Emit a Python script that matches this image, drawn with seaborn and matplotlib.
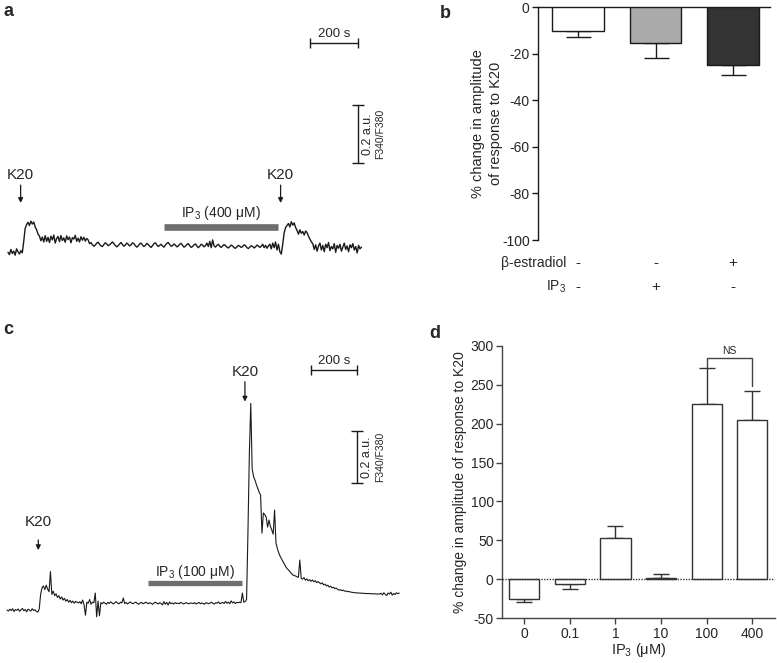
import numpy as np
import pandas as pd
import seaborn as sns
import matplotlib
matplotlib.use('Agg')
import matplotlib.pyplot as plt

# ---- data ----
# traces: F340/F380 ratio in milli a.u. (relative to start baseline), one sample every 6 s
sample_step_a = 6
trace_a = [-8, -16, 2, -12, -4, -18, 4, -6, -14, -2, -10,
           30, 75, 88, 96, 85, 100, 90, 97, 80, 70, 55, 48, 32,
           45, 28, 50, 30, 44, 26, 48, 35, 52, 24, 40, 47, 29, 50, 33, 42, 27, 49, 36, 45, 25, 43, 38, 51,
           30, 41, 28, 46, 34, 44, 31, 40, 35,
           22, 26, 18, 13, 17, 24, 27, 20, 14, 12, 19, 25, 21, 15, 18, 23, 28, 22, 16, 11, 15, 21, 26, 19,
           13, 17, 24, 20, 14, 18, 25, 22,
           15, 10, 14, 21, 24, 17, 12, 16, 23, 19, 13, 9, 15, 22, 25, 18, 12, 16, 20, 14, 10, 17, 23, 26,
           19, 13, 15, 21, 17, 11, 14, 20,
           23, 16, 10, 13, 19, 22, 15, 9, 12, 18, 21, 14, 8, 13, 20, 17, 11, 15, 24, 12, 30, 8, 35, 14,
           10, 16, 20, 13, 9, 14, 19, 15,
           10, 7, 12, 17, 14, 8, 6, 11, 16, 13, 9, 12, 18, 15, 8, 5, 10, 15, 12, 7, 11, 17, 14, 9, 13, 20,
           8, 16, 6, 14,
           20, 4, 24, 8, 28, 0, 20, -6, -14,
           20, 60, 78,
           85, 92, 80, 98, 86, 94, 78,
           68, 55, 70, 58, 64, 52, 66, 60, 48,
           38, 28,
           22, 2, 18, -4, 14, 24, 0, 16, -6, 20, 8, 26, -2, 12, 4, 22, -8, 16, 6, 20, -4, 10, 24, 2, 14,
           -6, 18, 8, 22, 0, 12, -10, 16, 4, 10]

sample_step_c = 6
trace_c = [0, -4, 3, -2, 5, -6, 2, -1, 4, -5, 1, 6, -3, 2, -7, 3, 0, -4, 5, -2, 1, -6, -8, 4,
           60, 85, 92, 78, 95, 80, 70, 147, 60, 72, 55, 62, 48, 55, 42, 50, 38, 45, 34, 40, 30, 37,
           28, 34, 26, 33, 30, 27,
           32, 24, 38, 20, -20, 30, 26, 40, 22, 30, 28, 65, -26, 34, -22,
           28, 24, 30, 26, 22, 29, 25, 31, 27, 23, 28, 32, 26, 24, 30, 27, 46, 25, 29, 23, 27, 31, 26,
           24, 28, 30, 25, 22, 27, 29, 24, 26, 30,
           27, 24, 28, 25, 22, 27, 30, 26, 23, 28, 25, 20, 32, 22, 29, 19, 31, 24, 27, 23, 28, 25, 26,
           24, 29, 27, 23, 26, 28, 25, 24, 27, 26,
           25, 28, 23, 26, 29, 24, 27, 25, 22, 28, 26, 24, 27, 30, 25, 23, 28, 26, 31, 24, 27, 29, 25,
           33, 26, 30, 24, 35, 27, 31, 25, 29, 28,
           30, 28, 65, 30, 32,
           40, 300, 600, 790, 540, 510, 497, 480, 465, 450, 440, 294, 371, 365, 355, 317, 344, 320, 306,
           290, 382, 256, 235, 218, 205, 195, 185, 176, 165, 158, 153, 146, 140, 134, 132, 130, 127,
           125, 191, 122,
           118, 124, 114, 119, 112, 116, 110, 115, 108, 112, 105, 109, 104,
           100, 104, 96, 99, 92, 95, 88, 91, 85, 87, 82, 84, 79, 76,
           78, 74, 76, 72, 73, 70, 71, 69, 68, 67,
           66, 66, 65, 65, 65, 64, 64, 64, 63, 63, 63, 63, 62, 62, 62, 62, 61, 61, 61,
           64, 58, 66, 60, 55, 65, 61, 68, 57, 63, 59, 66, 62, 65]

# panel b
b_groups = ['control', 'IP3', 'estradiol']
b_means = [-10.0, -15.2, -25.0]
b_sem = [2.6, 6.4, 4.0]
b_colors = ['#ffffff', '#aaaaaa', '#333333']
b_estradiol = ['-', '-', '+']
b_ip3 = ['-', '+', '-']

# panel d
d_doses = ['0', '0.1', '1', '10', '100', '400']
d_means = [-25.5, -6.3, 53.0, 1.4, 225.0, 205.0]
d_sem = [3.9, 6.7, 15.0, 6.0, 46.7, 37.0]

sns.set_theme(style='ticks')
plt.rcParams['font.family'] = ['Liberation Sans', 'DejaVu Sans']
plt.rcParams['mathtext.fontset'] = 'custom'
plt.rcParams['mathtext.rm'] = 'Liberation Sans'
plt.rcParams['mathtext.it'] = 'Liberation Sans:italic'
plt.rcParams['axes.unicode_minus'] = False

fig = plt.figure(figsize=(7.77, 6.63), dpi=100)


def trace_panel(rect, xlim, ylim, vals, step, lw, k20, ip3, ip3_label, sbar):
    ax = fig.add_axes(rect)
    t = np.arange(len(vals)) * step
    sns.lineplot(x=t, y=vals, ax=ax, color='k', lw=lw, estimator=None, sort=False)
    ax.set_xlim(*xlim)
    ax.set_ylim(*ylim)
    ax.axis('off')
    for (tx, ty, a0, a1) in k20:
        ax.text(tx, ty, 'K20', ha='center', va='center', fontsize=11)
        ax.annotate('', xy=(tx, a1), xytext=(tx, a0),
                    arrowprops=dict(arrowstyle='-|>', lw=0.9, color='k', mutation_scale=7,
                                    shrinkA=0, shrinkB=0))
    t0, t1, yb, yt, bw = ip3
    ax.plot([t0, t1], [yb, yb], color='#6e6e6e', lw=bw, solid_capstyle='butt')
    ax.text((t0 + t1) / 2, yt, ip3_label, ha='center', va='center', fontsize=10)
    hx0, hx1, hy, vx, vy0, vy1 = sbar
    ax.plot([hx0, hx1], [hy, hy], color='k', lw=1)
    ax.plot([hx0, hx1], [hy, hy], ls='none', marker='|', ms=7, mew=1, color='k')
    ax.text((hx0 + hx1) / 2, hy + 12, '200 s', ha='center', va='bottom', fontsize=9.5)
    ax.plot([vx, vx], [vy0, vy1], color='k', lw=1)
    ax.plot([vx, vx], [vy0, vy1], ls='none', marker='_', ms=8, mew=1, color='k')
    dx = (xlim[1] - xlim[0]) / 400
    ax.text(vx + 10 * dx, (vy0 + vy1) / 2, '0.2 a.u.', rotation=90, ha='center', va='center',
            fontsize=9)
    ax.text(vx + 22 * dx, (vy0 + vy1) / 2, 'F340/F380', rotation=90, ha='center', va='center',
            fontsize=7.5)
    return ax


trace_panel([0, 1 - 270 / 663, 400 / 777, 270 / 663], (-33.5, 1643.7), (-69.3, 866.6),
            trace_a, sample_step_a, 1.0,
            [(53, 260, 225, 163), (1143, 260, 225, 163)],
            (655, 1133, 81, 127, 4.8), 'IP$_3$ (400 μM)',
            (1268, 1468, 716, 1468, 302.6, 502.6))

trace_panel([0, 1 - 620 / 663, 410 / 777, 340 / 663], (-30, 1726), (-38.2, 1262),
            trace_c, sample_step_c, 0.8,
            [(134, 338, 268, 229), (1019, 911, 873, 797)],
            (605, 1005, 102, 146, 3.8), 'IP$_3$ (100 μM)',
            (1300, 1500, 918, 1500, 484.5, 684.5))

# ---- panel b ----
axb = fig.add_axes([538 / 777, 1 - 240 / 663, 232 / 777, 232.7 / 663])
df_b = pd.DataFrame({'group': b_groups, 'change': b_means})
sns.barplot(data=df_b, x='group', y='change', hue='group', palette=b_colors, saturation=1,
            edgecolor='k', linewidth=1, width=0.67, legend=False, ax=axb, zorder=3)
bm = np.array(b_means)
be = np.array(b_sem)
axb.errorbar(np.arange(3), bm, yerr=[np.where(bm < 0, be, 0), np.where(bm >= 0, be, 0)],
             fmt='none', ecolor='k', elinewidth=1, capsize=9, capthick=1, zorder=2)
axb.set_xlim(-0.52, 2.48)
axb.set_ylim(-100, 0)
axb.set_yticks(np.arange(-100, 1, 20))
axb.tick_params(axis='y', labelsize=10, length=4, width=1, color='k', pad=2)
axb.tick_params(axis='x', length=0, labelbottom=False)
axb.set_xlabel('')
axb.set_ylabel('')
for side in ['left', 'top']:
    axb.spines[side].set_visible(True)
    axb.spines[side].set_color('k')
    axb.spines[side].set_linewidth(1)
for side in ['right', 'bottom']:
    axb.spines[side].set_visible(False)
axb.text(-0.22, 0.5, '% change in amplitude\nof response to K20', transform=axb.transAxes,
         rotation=90, ha='center', va='center', fontsize=10.5, linespacing=1.3)
axb.text(-0.15, -110, 'β-estradiol', ha='right', va='center', fontsize=10, clip_on=False)
axb.text(-0.15, -120, 'IP$_3$', ha='right', va='center', fontsize=10, clip_on=False)
for i in range(3):
    axb.text(i, -110, b_estradiol[i], ha='center', va='center', fontsize=11, clip_on=False)
    axb.text(i, -120, b_ip3[i], ha='center', va='center', fontsize=11, clip_on=False)

# ---- panel d ----
axd = fig.add_axes([502 / 777, 1 - 618.3 / 663, 273 / 777, 272.6 / 663])
df_d = pd.DataFrame({'dose': d_doses, 'change': d_means})
sns.barplot(data=df_d, x='dose', y='change', color='white', saturation=1,
            edgecolor='#333333', linewidth=1, width=0.66, ax=axd, zorder=3)
dm = np.array(d_means)
de = np.array(d_sem)
axd.errorbar(np.arange(6), dm, yerr=[np.where(dm < 0, de, 0), np.where(dm >= 0, de, 0)],
             fmt='none', ecolor='#333333', elinewidth=1, capsize=6, capthick=1, zorder=2)
axd.axhline(0, color='#333333', lw=1, ls=(0, (1, 1)), zorder=4)
axd.set_xlim(-0.49, 5.5)
axd.set_ylim(-50, 300)
axd.set_yticks(np.arange(-50, 301, 50))
axd.tick_params(labelsize=10, length=4, width=1, color='#444444', pad=2)
for side in ['left', 'bottom']:
    axd.spines[side].set_color('#444444')
    axd.spines[side].set_linewidth(1)
sns.despine(ax=axd)
axd.set_xlabel('')
axd.set_ylabel('')
axd.text(-0.154, 0.5, '% change in amplitude of response to K20', transform=axd.transAxes,
         rotation=90, ha='center', va='center', fontsize=10)
axd.text(0.5, -0.116, 'IP$_3$ (μM)', transform=axd.transAxes, ha='center', va='center',
         fontsize=10.5)
# NS bracket between 100 and 400
axd.plot([4, 4, 5, 5], [272, 284, 284, 248], color='#444444', lw=1)
axd.text(4.5, 293, 'NS', ha='center', va='center', fontsize=7.5)

# panel letters
for lab, px, py in [('a', 8, 12), ('b', 445, 13), ('c', 8, 330), ('d', 435, 333)]:
    fig.text(px / 777, 1 - py / 663, lab, ha='center', va='center', fontsize=13,
             fontweight='bold')

fig.savefig('out.png', dpi=100)
